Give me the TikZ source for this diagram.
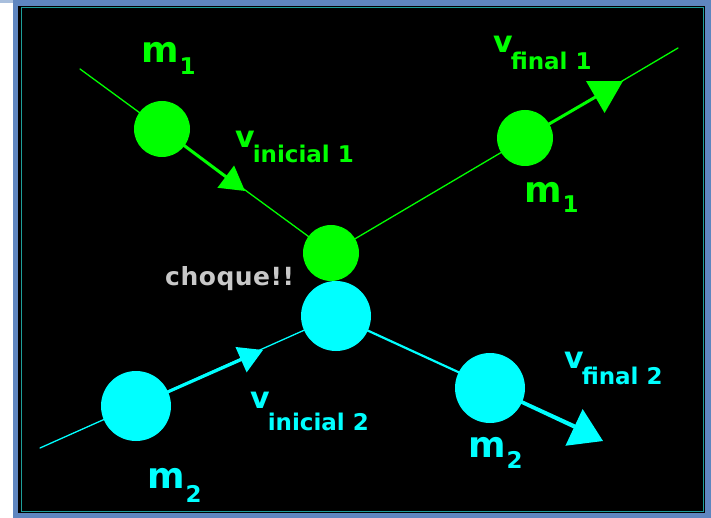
\documentclass[tikz,border=0pt]{standalone}
\usepackage{fontspec}
\setmainfont{DejaVu Sans}
\newfontfamily\subfont{DejaVu Sans Bold}
\newfontfamily\crashfont{DejaVu Sans Bold}[LetterSpace=2]
\newfontfamily\lblfont{DejaVu Sans Bold}
\usepackage{xcolor}
\definecolor{ballgreen}{HTML}{00FF00}
\definecolor{ballcyan}{HTML}{00FFFF}
\definecolor{framblue}{HTML}{5F86C0}
\definecolor{framlight}{HTML}{A9BFDD}
\definecolor{framteal}{HTML}{1E9E9A}
\definecolor{crashgray}{HTML}{C8C8C8}
\usetikzlibrary{arrows.meta}
\newcommand\massfont{\lblfont\fontsize{36}{36}\selectfont}
\newcommand\velfont{\lblfont\fontsize{30}{30}\selectfont}
\newcommand\subsz{\subfont\fontsize{23}{23}\selectfont}
\newcommand\masslbl[2]{{\massfont m}\kern1pt\raisebox{-#1pt}{\subsz #2}}
\newcommand\vellbl[2]{{\velfont v}\kern-2pt\raisebox{-#1pt}{\subsz #2}}

\begin{document}
\begin{tikzpicture}[x=1pt,y=-1pt,line cap=round,
  gball/.style={circle,fill=ballgreen,inner sep=0pt,minimum size=56pt},
  cball/.style={circle,fill=ballcyan,inner sep=0pt,minimum size=70pt},
  track/.style={line width=1.3pt},
  vec/.style={line width=3pt},
  lbl/.style={anchor=base west,inner sep=0pt}]
  \useasboundingbox (0,0) rectangle (711,518);
  % window frame
  \fill[white] (0,0) rectangle (711,518);
  \fill[framlight] (0,0) rectangle (13,3);
  \fill[framblue] (13,0) rectangle (711,518);
  \fill[black] (18,6) rectangle (705,513);
  \draw[framteal,line width=1pt] (21,8) rectangle (703,511);
  % ball centres and track ends
  \coordinate (c1a) at (162,129);
  \coordinate (c1b) at (331,253);
  \coordinate (c1c) at (525,138);
  \coordinate (c2a) at (136,406);
  \coordinate (c2b) at (336,316);
  \coordinate (c2c) at (490,388);
  \coordinate (g0) at (80,69);
  \coordinate (g1) at (678,48);
  \coordinate (k0) at (40,448);
  \coordinate (k1) at (578,427);
  \coordinate (t1a) at (245,191);
  \coordinate (t1c) at (623,81);
  \coordinate (t2a) at (263,350);
  \coordinate (t2c) at (603,441);
  % tracks
  \draw[ballgreen,track] (g0) -- (c1b) -- (g1);
  \draw[ballcyan,track] (k0) -- (c2b);
  \draw[ballcyan,line width=2.2pt] (c2b) -- (k1);
  % velocity vectors
  \draw[ballgreen,vec,-{Triangle[length=24pt,width=27pt]}] (c1a) -- (t1a);
  \draw[ballgreen,vec,-{Triangle[length=32pt,width=36pt]}] (c1c) -- (t1c);
  \draw[ballcyan,vec,-{Triangle[length=24pt,width=27pt]}] (c2a) -- (t2a);
  \draw[ballcyan,line width=2.2pt,-{Triangle[length=32pt,width=40pt]}] (c2c) -- (t2c);
  % balls
  \node[gball] (m1a) at (c1a) {};
  \node[gball] (m1b) at (c1b) {};
  \node[gball] (m1c) at (c1c) {};
  \node[cball] (m2a) at (c2a) {};
  \node[cball] (m2b) at (c2b) {};
  \node[cball] (m2c) at (c2c) {};
  % labels
  \node[lbl,ballgreen] (lm1a) at (141,63) {\masslbl{12}{1}};
  \node[lbl,ballgreen] (lm1c) at (524,203) {\masslbl{10}{1}};
  \node[lbl,ballcyan] (lm2a) at (147,488) {\masslbl{14}{2}};
  \node[lbl,ballcyan] (lm2c) at (468,457) {\masslbl{11}{2}};
  \node[lbl,ballgreen] (lvi1) at (235,148) {\vellbl{15}{inicial 1}};
  \node[lbl,ballgreen] (lvf1) at (493,53) {\vellbl{17}{final 1}};
  \node[lbl,ballcyan] (lvi2) at (250,408) {\vellbl{22}{inicial 2}};
  \node[lbl,ballcyan] (lvf2) at (564,368) {\vellbl{16}{final 2}};
  \node[lbl,crashgray] (crash) at (165,286)
    {\crashfont\fontsize{25}{25}\selectfont choque!!};
\end{tikzpicture}
\end{document}
